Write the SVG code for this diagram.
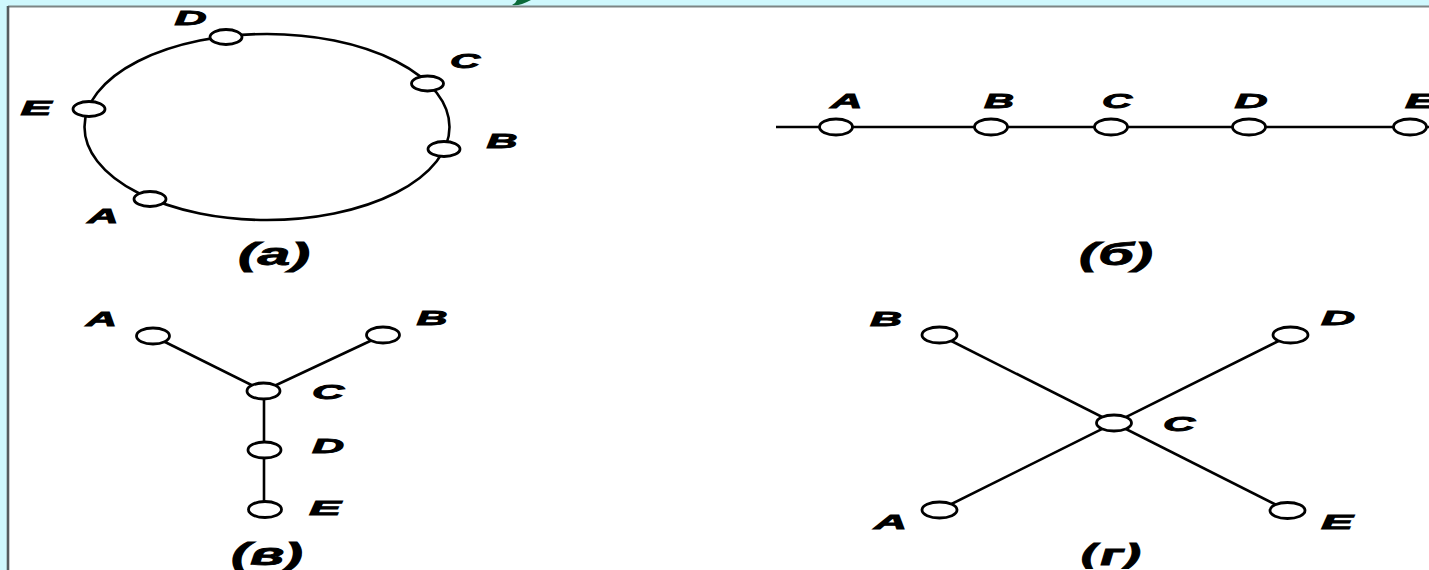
<svg xmlns="http://www.w3.org/2000/svg" width="1429" height="570" viewBox="0 0 1429 570">
<style>
.node{fill:#fff;stroke:#000;stroke-width:2.8}
.edge{fill:none;stroke:#000;stroke-width:2.6}
.lbl{font-family:"Liberation Sans",Arial,sans-serif;font-weight:bold;font-style:italic;font-size:21px;fill:#000;stroke:#000;stroke-width:0.9;text-anchor:middle}
.cap{font-family:"Liberation Sans",Arial,sans-serif;font-weight:bold;font-style:italic;font-size:31px;fill:#000;stroke:#000;stroke-width:0.8;text-anchor:middle}
.capo{font-family:"DejaVu Sans",sans-serif;font-weight:bold;font-style:oblique;font-size:29px;fill:#000;stroke:#000;stroke-width:0.8;text-anchor:middle}
</style>
<rect x="0" y="0" width="1429" height="570" fill="#cff8fd"/>
<path d="M512,5 Q519,6.5 531,0 L517,0 Q516,3 512,5 Z" fill="#0b6b3a"/>
<rect x="8" y="7" width="1421" height="563" fill="#fff"/>
<line x1="8" y1="6.5" x2="1429" y2="6.5" stroke="#7d8585" stroke-width="2"/>
<line x1="8" y1="6" x2="8" y2="570" stroke="#555c5e" stroke-width="2.6"/>

<g id="connectors">
  <ellipse class="edge" cx="267" cy="127" rx="182.5" ry="93"/>
  <line class="edge" x1="776" y1="127" x2="1429" y2="127"/>
  <line class="edge" x1="153" y1="336" x2="263.5" y2="391"/>
  <line class="edge" x1="383" y1="335" x2="263.5" y2="391"/>
  <line class="edge" x1="264" y1="391" x2="264" y2="509.5"/>
  <line class="edge" x1="939.5" y1="335" x2="1287.5" y2="510.5"/>
  <line class="edge" x1="1290.5" y1="335" x2="939.5" y2="510"/>
</g>

<g id="ring">
  <g id="ring-D"><ellipse class="node" cx="226" cy="37" rx="16" ry="7.5"/><text class="lbl" x="190.5" y="25" textLength="32" lengthAdjust="spacingAndGlyphs">D</text></g>
  <g id="ring-C"><ellipse class="node" cx="427.5" cy="83.5" rx="16" ry="7.5"/><text class="lbl" x="465" y="68" textLength="30" lengthAdjust="spacingAndGlyphs">C</text></g>
  <g id="ring-B"><ellipse class="node" cx="444" cy="149" rx="16" ry="7.5"/><text class="lbl" x="502" y="148" textLength="31" lengthAdjust="spacingAndGlyphs">B</text></g>
  <g id="ring-A"><ellipse class="node" cx="150" cy="199" rx="16" ry="7.5"/><text class="lbl" x="103" y="223" textLength="31" lengthAdjust="spacingAndGlyphs">A</text></g>
  <g id="ring-E"><ellipse class="node" cx="89" cy="109" rx="16" ry="7.5"/><text class="lbl" x="36" y="115" textLength="31" lengthAdjust="spacingAndGlyphs">E</text></g>
  <text class="cap" x="274" y="265" textLength="72" lengthAdjust="spacingAndGlyphs">(a)</text>
</g>

<g id="bus">
  <g id="bus-A"><ellipse class="node" cx="836" cy="127" rx="16.5" ry="8"/><text class="lbl" x="846.5" y="108" textLength="32" lengthAdjust="spacingAndGlyphs">A</text></g>
  <g id="bus-B"><ellipse class="node" cx="991" cy="127" rx="16.5" ry="8"/><text class="lbl" x="999" y="108" textLength="30" lengthAdjust="spacingAndGlyphs">B</text></g>
  <g id="bus-C"><ellipse class="node" cx="1111" cy="127" rx="16.5" ry="8"/><text class="lbl" x="1117" y="108" textLength="30" lengthAdjust="spacingAndGlyphs">C</text></g>
  <g id="bus-D"><ellipse class="node" cx="1249" cy="127" rx="16.5" ry="8"/><text class="lbl" x="1251" y="108" textLength="33" lengthAdjust="spacingAndGlyphs">D</text></g>
  <g id="bus-E"><ellipse class="node" cx="1410" cy="127" rx="16.5" ry="8"/><text class="lbl" x="1421" y="108" textLength="32" lengthAdjust="spacingAndGlyphs">E</text></g>
  <text class="cap" x="1116" y="265" textLength="74" lengthAdjust="spacingAndGlyphs">(б)</text>
</g>

<g id="tree">
  <g id="tree-A"><ellipse class="node" cx="153" cy="336" rx="16.5" ry="8"/><text class="lbl" x="101.5" y="326" textLength="31" lengthAdjust="spacingAndGlyphs">A</text></g>
  <g id="tree-B"><ellipse class="node" cx="383" cy="335" rx="16.5" ry="8"/><text class="lbl" x="432" y="325" textLength="31" lengthAdjust="spacingAndGlyphs">B</text></g>
  <g id="tree-C"><ellipse class="node" cx="263.5" cy="391" rx="16.5" ry="8"/><text class="lbl" x="328" y="399" textLength="32" lengthAdjust="spacingAndGlyphs">C</text></g>
  <g id="tree-D"><ellipse class="node" cx="264.5" cy="450" rx="16.5" ry="8"/><text class="lbl" x="328" y="453" textLength="32" lengthAdjust="spacingAndGlyphs">D</text></g>
  <g id="tree-E"><ellipse class="node" cx="265" cy="509.5" rx="16.5" ry="8"/><text class="lbl" x="325" y="515" textLength="32" lengthAdjust="spacingAndGlyphs">E</text></g>
  <text class="cap" x="267" y="565" textLength="72" lengthAdjust="spacingAndGlyphs">(в)</text>
</g>

<g id="star">
  <g id="star-B"><ellipse class="node" cx="939.5" cy="335" rx="17.5" ry="8"/><text class="lbl" x="886" y="326" textLength="32" lengthAdjust="spacingAndGlyphs">B</text></g>
  <g id="star-D"><ellipse class="node" cx="1290.5" cy="335" rx="17.5" ry="8"/><text class="lbl" x="1338" y="325" textLength="34" lengthAdjust="spacingAndGlyphs">D</text></g>
  <g id="star-C"><ellipse class="node" cx="1114" cy="423" rx="17.5" ry="8"/><text class="lbl" x="1179" y="431" textLength="32" lengthAdjust="spacingAndGlyphs">C</text></g>
  <g id="star-A"><ellipse class="node" cx="939.5" cy="510" rx="17.5" ry="8"/><text class="lbl" x="890.5" y="529" textLength="33" lengthAdjust="spacingAndGlyphs">A</text></g>
  <g id="star-E"><ellipse class="node" cx="1287.5" cy="510.5" rx="17.5" ry="8"/><text class="lbl" x="1337" y="529" textLength="32" lengthAdjust="spacingAndGlyphs">E</text></g>
  <text class="capo" x="1111.5" y="565" textLength="65" lengthAdjust="spacingAndGlyphs">(г)</text>
</g>
</svg>
